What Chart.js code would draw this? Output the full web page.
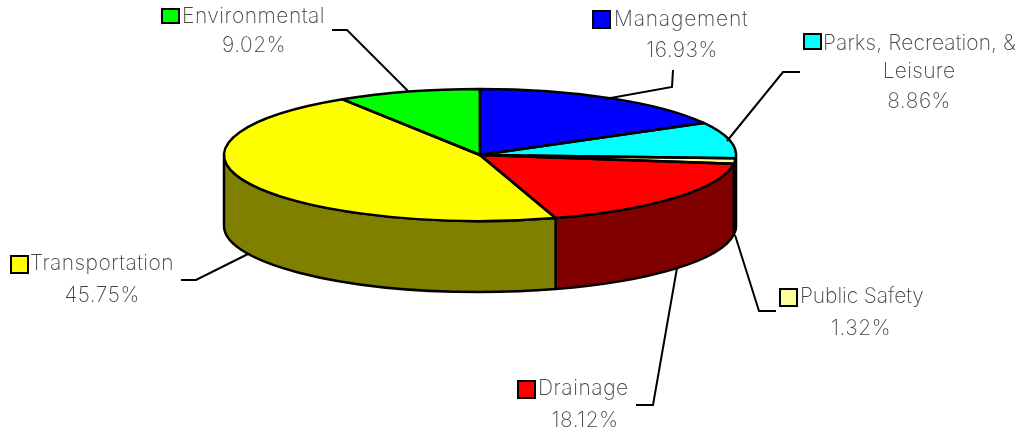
<!DOCTYPE html>
<html>
<head>
<meta charset="utf-8">
<title>Pie</title>
<script src="https://cdn.jsdelivr.net/npm/chart.js@4"></script>
<style>
    html, body { margin: 0; background: #fff; }
    canvas { display: block; }
</style>
</head>
<body>
<canvas id="chart_pie" width="1021" height="432"></canvas>
<script>
var categories = ['Management', 'Parks, Recreation, & Leisure', 'Public Safety', 'Drainage', 'Transportation', 'Environmental'];
var shares = [16.93, 8.86, 1.32, 18.12, 45.75, 9.02];
var shareLabels = ['16.93%', '8.86%', '1.32%', '18.12%', '45.75%', '9.02%'];
var topColors = ['#0000ff', '#00ffff', '#ffff99', '#ff0000', '#ffff00', '#00ff00'];
var wallColors = ['#000080', '#008080', '#80804c', '#800000', '#808000', '#008000'];

// pie shape on the page
var pieX = 480, pieY = 155, pieRx = 256, pieRy = 66, pieDepth = 71;

// callouts: swatch rect, text lines [text, x, baseline, align, letter spacing], leader line points
var callouts = [
    { box: [593, 11, 17, 17], lines: [['Management', 614, 26, 'left', 0.8], [shareLabels[0], 682, 57, 'center', 0.5]],
      leader: [[673, 70], [672, 87], [605, 99]] },
    { box: [804, 34, 17, 15], lines: [['Parks, Recreation, &', 823, 50, 'left', 0.1], ['Leisure', 919, 78, 'center', 0.3], [shareLabels[1], 919, 108, 'center', 0.5]],
      leader: [[800, 72], [783, 72], [727, 141]] },
    { box: [780, 289, 17, 17], lines: [['Public Safety', 800, 303, 'left', -0.1], [shareLabels[2], 861, 335, 'center', 0.5]],
      leader: [[776, 311], [759, 311], [735, 235]] },
    { box: [518, 381, 17, 17], lines: [['Drainage', 538, 395, 'left', 0.55], [shareLabels[3], 585, 427, 'center', 0.5]],
      leader: [[636, 405], [653, 405], [677, 268]] },
    { box: [11, 256, 17, 17], lines: [['Transportation', 30, 270, 'left', 0.45], [shareLabels[4], 102, 302, 'center', 0.5]],
      leader: [[181, 280], [196, 280], [248, 254]] },
    { box: [162, 9, 17, 14], lines: [['Environmental', 182, 23, 'left', 0.5], [shareLabels[5], 254, 52, 'center', 0.5]],
      leader: [[332, 30], [347, 30], [408, 91]] }
];

var pie3d = {
    id: 'pie3d',
    beforeDatasetsDraw: function (chart) {
        var ctx = chart.ctx;
        var arcs = chart.getDatasetMeta(0).data;
        ctx.save();
        ctx.lineWidth = 2.5;
        ctx.strokeStyle = '#000';
        ctx.lineJoin = 'round';
        arcs.forEach(function (arc, i) {
            var s = Math.max(arc.startAngle, 0);
            var e = Math.min(arc.endAngle, Math.PI);
            if (e <= s) return;
            ctx.beginPath();
            ctx.ellipse(pieX, pieY, pieRx, pieRy, 0, s, e);
            ctx.ellipse(pieX, pieY + pieDepth, pieRx, pieRy, 0, e, s, true);
            ctx.closePath();
            ctx.fillStyle = wallColors[i];
            ctx.fill();
            ctx.stroke();
        });
        ctx.restore();

        // squash the flat pie into the top face
        var first = arcs[0];
        ctx.save();
        ctx.translate(pieX, pieY);
        ctx.scale(pieRx / first.outerRadius, pieRy / first.outerRadius);
        ctx.translate(-first.x, -first.y);
    },
    afterDatasetsDraw: function (chart) {
        var ctx = chart.ctx;
        ctx.restore();

        ctx.save();
        ctx.lineWidth = 2.5;
        ctx.strokeStyle = '#000';
        ctx.lineJoin = 'round';
        chart.getDatasetMeta(0).data.forEach(function (arc) {
            ctx.beginPath();
            ctx.moveTo(pieX, pieY);
            ctx.ellipse(pieX, pieY, pieRx, pieRy, 0, arc.startAngle, arc.endAngle);
            ctx.closePath();
            ctx.stroke();
        });
        ctx.restore();
    },
    afterDraw: function (chart) {
        var ctx = chart.ctx;
        ctx.save();
        callouts.forEach(function (c, i) {
            ctx.lineWidth = 2;
            ctx.strokeStyle = '#000';
            ctx.beginPath();
            c.leader.forEach(function (p, k) {
                if (k == 0) ctx.moveTo(p[0], p[1]);
                else ctx.lineTo(p[0], p[1]);
            });
            ctx.stroke();

            ctx.fillStyle = topColors[i];
            ctx.fillRect(c.box[0], c.box[1], c.box[2], c.box[3]);
            ctx.strokeRect(c.box[0], c.box[1], c.box[2], c.box[3]);

            ctx.fillStyle = '#444';
            ctx.font = '200 21px Inter';
            ctx.textBaseline = 'alphabetic';
            c.lines.forEach(function (l) {
                ctx.textAlign = l[3];
                ctx.letterSpacing = l[4] + 'px';
                ctx.fillText(l[0], l[1], l[2]);
            });
        });
        ctx.restore();
    }
};

var ctx = document.getElementById('chart_pie');
new Chart(ctx, {
    type: 'pie',
    data: {
        labels: categories,
        datasets: [{
            data: shares,
            backgroundColor: topColors,
            borderWidth: 0
        }]
    },
    plugins: [pie3d],
    options: {
        responsive: false,
        animation: false,
        plugins: {
            legend: {
                display: false,
            },
            tooltip: {
                enabled: false,
            },
        },
    }
});
</script>
</body>
</html>
